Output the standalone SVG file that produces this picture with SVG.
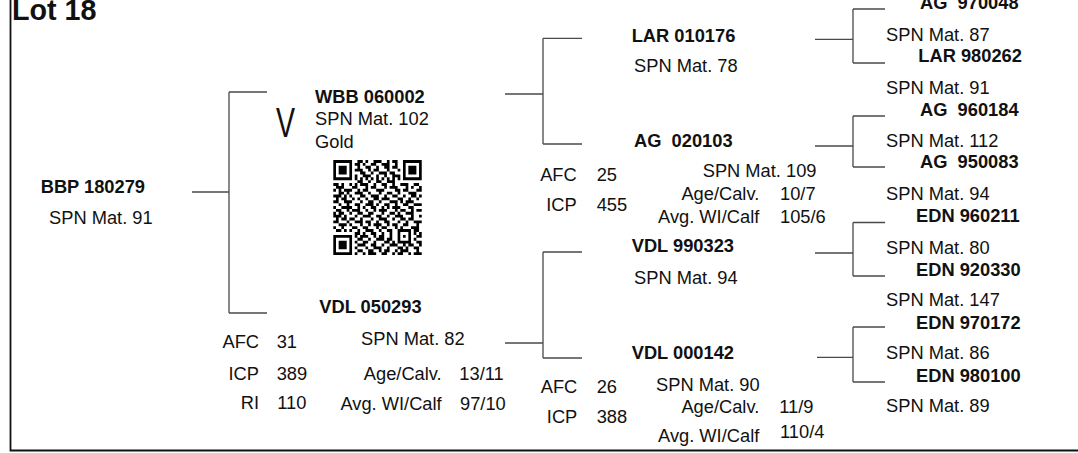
<svg xmlns="http://www.w3.org/2000/svg" width="1078" height="453" viewBox="0 0 1078 453">
<style>
text{font-family:"Liberation Sans",Arial,sans-serif;font-size:18.3px;fill:#111}
.b{font-weight:bold}
.r{text-anchor:end}
.ln{stroke:#4a4a4a;stroke-width:1.3;fill:none}
.fr{stroke:#111;stroke-width:1.8;fill:none}
</style>
<rect width="1078" height="453" fill="#fff"/>
<g id="frame"><path class="fr" d="M10.5,0V450.5H1078"/></g>
<g id="title"><text class="b" x="12" y="20" style="font-size:28.7px">Lot 18</text></g>
<g id="connectors">
<path class="ln" d="M192,192H229M229,92V313M229,92H267M229,313H267"/>
<path class="ln" d="M505,94H543M543,38.3V144M543,38.3H582M543,144H582"/>
<path class="ln" d="M505,343H543M543,252V358M543,252H582M543,358H582"/>
<path class="ln" d="M815,39.3H853M853,9V63M853,9H885M853,63H885"/>
<path class="ln" d="M815,146H853M853,116V167M853,116H885M853,167H885"/>
<path class="ln" d="M815,253H853M853,222.5V276M853,222.5H885M853,276H885"/>
<path class="ln" d="M817,357.3H853M853,327V382M853,327H885M853,382H885"/>
</g>
<g id="node-bbp180279">
<text class="b" x="40.7" y="193.3">BBP 180279</text>
<text x="49" y="224">SPN Mat. 91</text>
</g>
<g id="node-wbb060002">
<text transform="translate(276,137.3) scale(0.68,1)" style="font-size:42px">V</text>
<text class="b" x="315" y="103">WBB 060002</text>
<text x="315" y="125">SPN Mat. 102</text>
<text x="315" y="147.7">Gold</text>
<g id="qr" transform="translate(333.3,160) scale(2.68,2.88)">
<path stroke="#000" stroke-width="1" fill="none" d="M0,0.5h7M9,0.5h2M12,0.5h1M15,0.5h3M20,0.5h1M22,0.5h2M26,0.5h7
M0,1.5h1M6,1.5h1M8,1.5h2M11,1.5h1M14,1.5h2M18,1.5h3M23,1.5h1M26,1.5h1M32,1.5h1
M0,2.5h1M2,2.5h3M6,2.5h1M9,2.5h1M12,2.5h2M16,2.5h1M19,2.5h2M22,2.5h2M26,2.5h1M28,2.5h3M32,2.5h1
M0,3.5h1M2,3.5h3M6,3.5h1M8,3.5h3M13,3.5h1M15,3.5h2M20,3.5h1M24,3.5h1M26,3.5h1M28,3.5h3M32,3.5h1
M0,4.5h1M2,4.5h3M6,4.5h1M10,4.5h2M14,4.5h1M17,4.5h3M21,4.5h2M26,4.5h1M28,4.5h3M32,4.5h1
M0,5.5h1M6,5.5h1M8,5.5h1M11,5.5h3M16,5.5h1M19,5.5h1M22,5.5h3M26,5.5h1M32,5.5h1
M0,6.5h7M8,6.5h1M10,6.5h1M12,6.5h1M14,6.5h1M16,6.5h1M18,6.5h1M20,6.5h1M22,6.5h1M24,6.5h1M26,6.5h7
M9,7.5h2M13,7.5h1M16,7.5h2M20,7.5h3
M0,8.5h2M3,8.5h1M6,8.5h1M8,8.5h1M10,8.5h3M15,8.5h1M18,8.5h2M22,8.5h1M25,8.5h3M30,8.5h2
M1,9.5h3M7,9.5h2M12,9.5h1M14,9.5h2M19,9.5h1M21,9.5h3M27,9.5h1M29,9.5h1M32,9.5h1
M0,10.5h1M2,10.5h1M4,10.5h3M9,10.5h1M11,10.5h2M16,10.5h3M23,10.5h2M26,10.5h2M31,10.5h2
M2,11.5h2M5,11.5h1M8,11.5h3M13,11.5h1M17,11.5h1M20,11.5h2M24,11.5h1M28,11.5h3
M0,12.5h3M4,12.5h1M6,12.5h1M10,12.5h2M14,12.5h3M19,12.5h1M22,12.5h2M26,12.5h1M29,12.5h2M32,12.5h1
M1,13.5h1M3,13.5h2M7,13.5h1M9,13.5h1M12,13.5h1M15,13.5h2M18,13.5h3M24,13.5h2M28,13.5h1M31,13.5h1
M0,14.5h2M4,14.5h3M10,14.5h1M13,14.5h2M17,14.5h1M21,14.5h3M25,14.5h1M27,14.5h3
M2,15.5h1M5,15.5h1M8,15.5h2M12,15.5h3M16,15.5h1M19,15.5h2M23,15.5h1M26,15.5h2M30,15.5h3
M0,16.5h1M3,16.5h4M9,16.5h1M11,16.5h1M14,16.5h2M18,16.5h1M20,16.5h1M22,16.5h3M28,16.5h2
M1,17.5h2M5,17.5h1M7,17.5h3M12,17.5h1M15,17.5h1M17,17.5h3M23,17.5h1M25,17.5h2M29,17.5h1M31,17.5h2
M0,18.5h1M2,18.5h2M6,18.5h1M9,18.5h2M13,18.5h2M18,18.5h1M21,18.5h2M24,18.5h1M27,18.5h3
M0,19.5h3M4,19.5h1M8,19.5h1M11,19.5h3M16,19.5h2M20,19.5h1M23,19.5h3M29,19.5h1M32,19.5h1
M1,20.5h1M3,20.5h2M6,20.5h2M10,20.5h1M14,20.5h1M17,20.5h3M22,20.5h1M25,20.5h2M28,20.5h2
M0,21.5h2M5,21.5h1M8,21.5h3M12,21.5h2M16,21.5h1M19,21.5h2M24,21.5h1M27,21.5h1M30,21.5h3
M2,22.5h3M6,22.5h1M10,22.5h1M13,22.5h1M15,22.5h3M20,22.5h1M22,22.5h2M26,22.5h2M31,22.5h1
M0,23.5h1M3,23.5h1M7,23.5h2M11,23.5h2M16,23.5h1M18,23.5h2M23,23.5h1M25,23.5h1M29,23.5h3
M1,24.5h2M4,24.5h1M6,24.5h1M9,24.5h1M12,24.5h3M17,24.5h1M20,24.5h2M24,24.5h5M30,24.5h2
M8,25.5h2M11,25.5h1M14,25.5h2M18,25.5h1M21,25.5h1M24,25.5h1M28,25.5h1M30,25.5h1M32,25.5h1
M0,26.5h7M8,26.5h1M10,26.5h3M15,26.5h1M17,26.5h2M21,26.5h1M24,26.5h1M26,26.5h1M28,26.5h1M31,26.5h2
M0,27.5h1M6,27.5h1M9,27.5h2M13,27.5h1M16,27.5h3M20,27.5h2M24,27.5h1M28,27.5h1M30,27.5h1
M0,28.5h1M2,28.5h3M6,28.5h1M8,28.5h1M11,28.5h2M15,28.5h1M19,28.5h2M22,28.5h1M24,28.5h5M31,28.5h2
M0,29.5h1M2,29.5h3M6,29.5h1M9,29.5h3M14,29.5h2M18,29.5h1M21,29.5h3M26,29.5h1M28,29.5h2M32,29.5h1
M0,30.5h1M2,30.5h3M6,30.5h1M8,30.5h1M12,30.5h1M15,30.5h3M20,30.5h1M24,30.5h2M27,30.5h1M30,30.5h2
M0,31.5h1M6,31.5h1M9,31.5h2M13,31.5h2M17,31.5h1M19,31.5h2M23,31.5h1M25,31.5h3M31,31.5h1
M0,32.5h7M8,32.5h1M11,32.5h1M13,32.5h3M18,32.5h2M22,32.5h1M24,32.5h2M28,32.5h1M30,32.5h3"/>
</g>
</g>
<g id="node-vdl050293">
<text class="b" x="319.3" y="313.3">VDL 050293</text>
<text class="r" x="259" y="347.7">AFC</text><text x="276.7" y="347.7">31</text>
<text class="r" x="259" y="380">ICP</text><text x="276.7" y="380">389</text>
<text class="r" x="259" y="409.3">RI</text><text x="277.3" y="409.3">110</text>
<text x="361" y="345">SPN Mat. 82</text>
<text class="r" x="441.7" y="380">Age/Calv.</text><text x="459.3" y="380">13/11</text>
<text class="r" x="441.7" y="410">Avg. WI/Calf</text><text x="460" y="410">97/10</text>
</g>
<g id="node-lar010176">
<text class="b" x="631.7" y="42.3">LAR 010176</text>
<text x="634" y="72.3">SPN Mat. 78</text>
</g>
<g id="node-ag020103">
<text class="b" x="634" y="147.3">AG&#160; 020103</text>
<text class="r" x="576.7" y="181">AFC</text><text x="596.7" y="181">25</text>
<text class="r" x="576.7" y="210.7">ICP</text><text x="596.7" y="210.7">455</text>
<text x="702.7" y="176.7">SPN Mat. 109</text>
<text class="r" x="759.3" y="200">Age/Calv.</text><text x="780" y="200">10/7</text>
<text class="r" x="759.3" y="222.7">Avg. WI/Calf</text><text x="780" y="222.7">105/6</text>
</g>
<g id="node-vdl990323">
<text class="b" x="631.7" y="252.3">VDL 990323</text>
<text x="634" y="284">SPN Mat. 94</text>
</g>
<g id="node-vdl000142">
<text class="b" x="631.7" y="359.3">VDL 000142</text>
<text class="r" x="577.3" y="393.3">AFC</text><text x="596.7" y="393.3">26</text>
<text class="r" x="577.3" y="423.3">ICP</text><text x="596.7" y="423.3">388</text>
<text x="656" y="390.7">SPN Mat. 90</text>
<text class="r" x="759.3" y="413.3">Age/Calv.</text><text x="779.3" y="413.3">11/9</text>
<text class="r" x="759.3" y="441.7">Avg. WI/Calf</text><text x="780" y="438.3">110/4</text>
</g>
<g id="node-ag970048"><text class="b" x="920" y="9">AG&#160; 970048</text><text x="886" y="40.7">SPN Mat. 87</text></g>
<g id="node-lar980262"><text class="b" x="918.3" y="62.3">LAR 980262</text><text x="886" y="94">SPN Mat. 91</text></g>
<g id="node-ag960184"><text class="b" x="920" y="115.7">AG&#160; 960184</text><text x="886" y="146.7">SPN Mat. 112</text></g>
<g id="node-ag950083"><text class="b" x="920" y="168.3">AG&#160; 950083</text><text x="886" y="200">SPN Mat. 94</text></g>
<g id="node-edn960211"><text class="b" x="916" y="222.3">EDN 960211</text><text x="886" y="254">SPN Mat. 80</text></g>
<g id="node-edn920330"><text class="b" x="916" y="275.7">EDN 920330</text><text x="886" y="305.7">SPN Mat. 147</text></g>
<g id="node-edn970172"><text class="b" x="916" y="329">EDN 970172</text><text x="886" y="359">SPN Mat. 86</text></g>
<g id="node-edn980100"><text class="b" x="916" y="382.3">EDN 980100</text><text x="886" y="411.7">SPN Mat. 89</text></g>
</svg>
